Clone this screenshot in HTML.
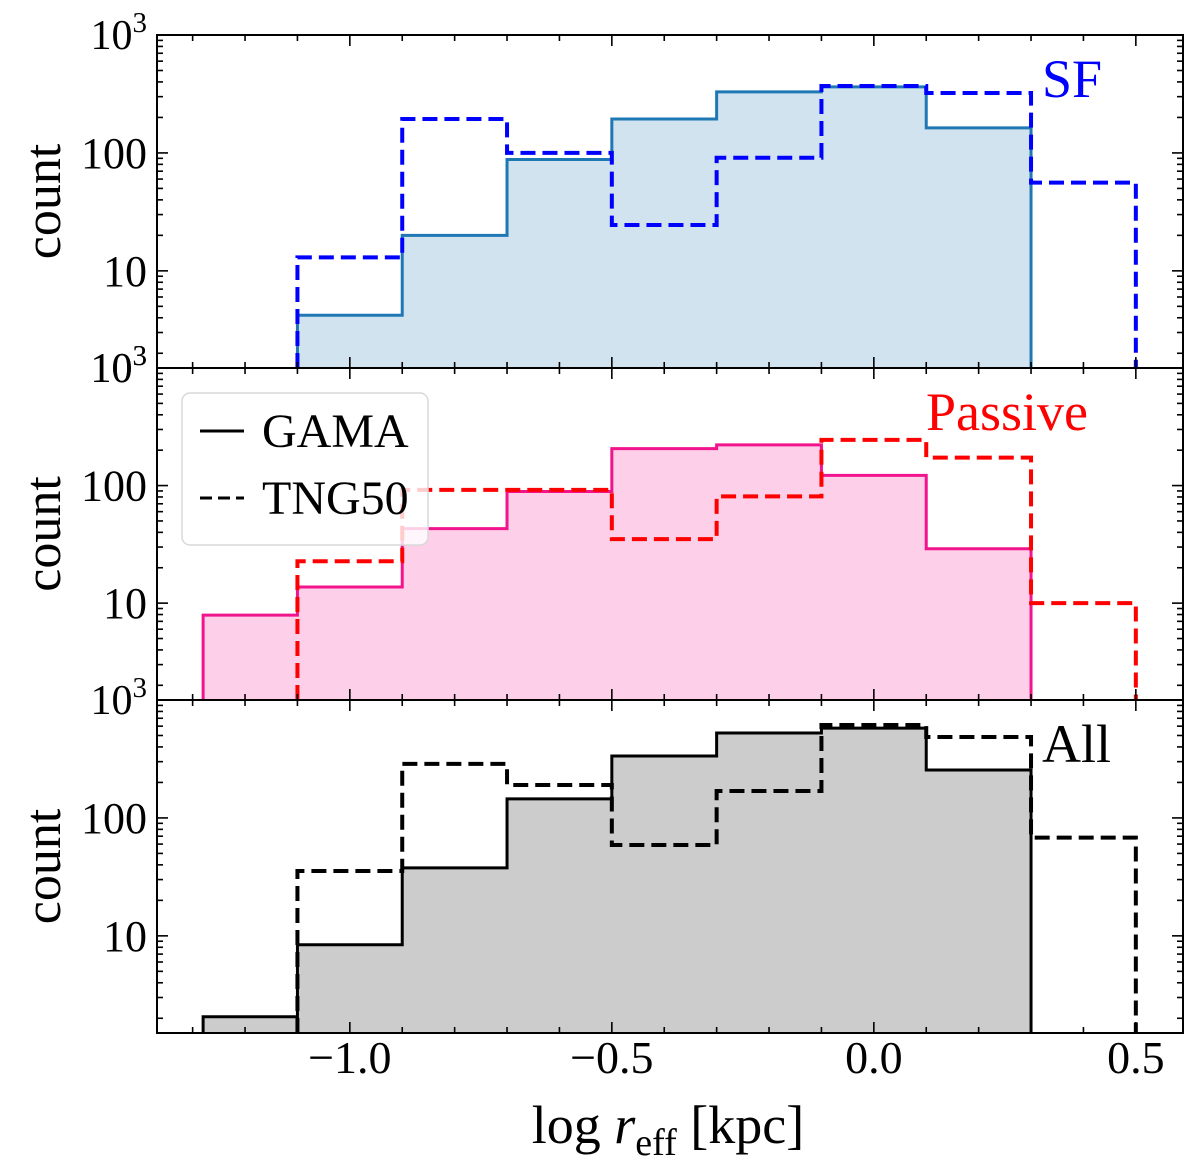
<!DOCTYPE html>
<html><head><meta charset="utf-8"><style>
html,body{margin:0;padding:0;background:#fff;}
svg text{font-family:"Liberation Serif",serif;}
</style></head><body>
<svg id="chart" width="1200" height="1163" viewBox="0 0 1200 1163" xmlns="http://www.w3.org/2000/svg"></svg>
<script>
const edges = [-1.28,-1.1,-0.9,-0.7,-0.5,-0.3,-0.1,0.1,0.3,0.5];
const sfGama = [0,4.2,20,88,194,329,363,163,0];
const sfTng = [0,13,194,100,24.5,91,369,322,56];
const pasGama = [7.9,13.7,43,89,206,222,122,29,0];
const pasTng = [0,22.7,92,92,35,81,245,173,10];
const allGama = [2.06,8.4,37.7,145,335,525,578,255,0];
const allTng = [0,35.5,287,190,59,169,614,486,68];
const xTicks = [-1.0,-0.5,0.0,0.5];
const xTickLabels = ["\u22121.0","\u22120.5","0.0","0.5"];

const NS="http://www.w3.org/2000/svg";
const svg=document.getElementById('chart');
const L=157,R=1183;
const xmin=-1.368,xmax=0.590,ymin=1.5,ymax=1000;
const X=v=>L+(v-xmin)/(xmax-xmin)*(R-L);
const panels=[{top:35,bot:368,name:'sf'},{top:368,bot:700,name:'passive'},{top:700,bot:1033,name:'all'}];
function mk(tag,attrs,parent){const e=document.createElementNS(NS,tag);for(const k in attrs)e.setAttribute(k,attrs[k]);(parent||svg).appendChild(e);return e;}
function Yf(p){return v=>p.bot-(Math.log10(v)-Math.log10(ymin))/(Math.log10(ymax)-Math.log10(ymin))*(p.bot-p.top);}

function stepPath(vals,Y,p,closed){
  let last=-1;for(let i=0;i<vals.length;i++)if(vals[i]>0)last=i;
  let d='';let started=false;
  for(let i=0;i<=last;i++){
    const v=vals[i];const x0=X(edges[i]),x1=X(edges[i+1]);
    const y=v>0?Y(v):p.bot;
    if(!started){ if(v>0){d+=`M${x0},${p.bot}L${x0},${y}L${x1},${y}`;started=true;} continue;}
    d+=`L${x0},${y}L${x1},${y}`;
  }
  d+=`L${X(edges[last+1])},${p.bot}`;
  if(closed)d+='Z';
  return d;
}

const series=[
 {g:sfGama,t:sfTng,fill:'#d2e3f0',line:'#1f77b4',dash:'#0000ff'},
 {g:pasGama,t:pasTng,fill:'#fdcfe8',line:'#f2148c',dash:'#ff0000'},
 {g:allGama,t:allTng,fill:'#cccccc',line:'#000000',dash:'#000000'}
];

panels.forEach((p,pi)=>{
  const Y=Yf(p);const s=series[pi];
  const grp=mk('g',{});
  
  
  const f=mk('path',{d:stepPath(s.g,Y,p,true),fill:s.fill,stroke:'none'},grp);
  
  
  const gl=mk('path',{d:stepPath(s.g,Y,p,false),fill:'none',stroke:s.line,'stroke-width':3},grp);
  
  
  const tl=mk('path',{d:stepPath(s.t,Y,p,false),fill:'none',stroke:s.dash,'stroke-width':4,'stroke-dasharray':'15,7'},grp);
  
  
  const fr=mk('rect',{x:L,y:p.top,width:R-L,height:p.bot-p.top,fill:'none',stroke:'#000','stroke-width':2},grp);
  
  
  for(let k=-13;k<=5;k++){
    const v=k/10;const x=X(v);const major=(k%5===0);const len=major?11:6;
    mk('line',{x1:x,x2:x,y1:p.bot,y2:p.bot-len,stroke:'#000','stroke-width':1.6},grp);
    mk('line',{x1:x,x2:x,y1:p.top,y2:p.top+len,stroke:'#000','stroke-width':1.6},grp);
  }
  for(let e=0;e<=3;e++){for(let m=1;m<=9;m++){
    const v=m*Math.pow(10,e);if(v<ymin||v>ymax)continue;const y=Y(v);const len=m===1?11:6;
    mk('line',{x1:L,x2:L+len,y1:y,y2:y,stroke:'#000','stroke-width':1.6},grp);
    mk('line',{x1:R,x2:R-len,y1:y,y2:y,stroke:'#000','stroke-width':1.6},grp);
  }}
  [[10,'10'],[100,'100']].forEach(([v,t])=>{
    const tx=mk('text',{x:L-10,y:Y(v)+15,'text-anchor':'end','font-size':44},grp);tx.textContent=t;
    
    
  });
  if(pi<2){
    const t=mk('text',{x:L-10,y:p.top+14,'text-anchor':'end','font-size':42},grp);
    t.innerHTML='10<tspan dy="-17" font-size="29">3</tspan>';
    
    
    const t2=mk('text',{x:L-10,y:p.bot+14,'text-anchor':'end','font-size':42},grp);
    t2.innerHTML='10<tspan dy="-17" font-size="29">3</tspan>';
    
    
  }
  const yl=mk('text',{x:0,y:0,'text-anchor':'middle','font-size':52,transform:`translate(60,${(p.top+p.bot)/2}) rotate(-90)`},grp);
  yl.textContent='count';
  
  
});

xTicks.forEach((v,i)=>{
  const t=mk('text',{x:X(v),y:1073,'text-anchor':'middle','font-size':46});
  t.textContent=xTickLabels[i];
  
  
});
const xl=mk('text',{x:668,y:1143,'text-anchor':'middle','font-size':54});
xl.innerHTML='log <tspan font-style="italic">r</tspan><tspan dy="12" font-size="38">eff</tspan><tspan dy="-12"> [kpc]</tspan>';



[['SF',1042,97,'#0000ff','sf-label'],['Passive',926,430,'#ff0000','passive-label'],['All',1042,762,'#000','all-label']].forEach(a=>{
  const t=mk('text',{x:a[1],y:a[2],'font-size':54,fill:a[3]});t.textContent=a[0];
  
  
});

const lg=mk('g',{});


mk('rect',{x:182,y:393,width:246,height:152,rx:8,fill:'rgba(255,255,255,0.8)',stroke:'#d8d8d8','stroke-width':1.5},lg);
mk('line',{x1:200,x2:244,y1:431,y2:431,stroke:'#000','stroke-width':3},lg);
const l1=mk('text',{x:262,y:447,'font-size':48},lg);l1.textContent='GAMA';


mk('line',{x1:200,x2:244,y1:498,y2:498,stroke:'#000','stroke-width':3,'stroke-dasharray':'12,6'},lg);
const l2=mk('text',{x:262,y:514,'font-size':48},lg);l2.textContent='TNG50';


</script>
</body></html>
